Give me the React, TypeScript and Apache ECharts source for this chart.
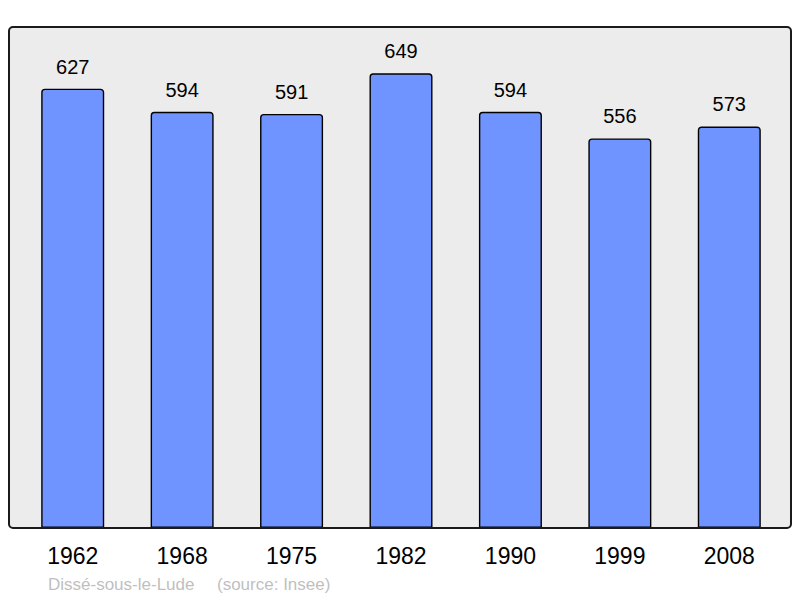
import React, { useEffect, useRef } from "react";
import * as echarts from "echarts";

const years = ["1962", "1968", "1975", "1982", "1990", "1999", "2008"];
const population = [627, 594, 591, 649, 594, 556, 573];
const footerName = "Dissé-sous-le-Lude";
const footerSource = "(source: Insee)";

const FONT = "'Liberation Sans', Arial, sans-serif";

export default function App() {
  const ref = useRef<HTMLDivElement>(null);
  useEffect(() => {
    if (!ref.current) return;
    const chart = echarts.init(ref.current, null, { renderer: "svg" });
    chart.setOption({
      animation: false,
      backgroundColor: "#ffffff",
      textStyle: { fontFamily: FONT },
      grid: { left: 18, right: 16, top: 27, bottom: 70, containLabel: false },
      xAxis: {
        type: "category",
        data: years,
        axisLine: { show: false },
        axisTick: { show: false },
        axisLabel: { color: "#000", fontSize: 23, margin: 16, fontFamily: FONT },
      },
      yAxis: {
        type: "value",
        min: 0,
        max: 715,
        show: false,
        splitLine: { show: false },
      },
      graphic: [
        {
          type: "rect",
          z: -10,
          shape: { x: 9, y: 27, width: 782, height: 501, r: 4 },
          style: { fill: "#ececec", stroke: "none" },
        },
        {
          type: "rect",
          z: 100,
          shape: { x: 9, y: 27, width: 782, height: 501, r: 4 },
          style: { fill: "none", stroke: "#1a1a1a", lineWidth: 2 },
        },
        {
          type: "text",
          x: 48,
          y: 584,
          style: {
            text: footerName,
            fill: "#bfbfbf",
            fontSize: 17,
            fontFamily: FONT,
            verticalAlign: "middle",
          },
        },
        {
          type: "text",
          x: 217,
          y: 584,
          style: {
            text: footerSource,
            fill: "#bfbfbf",
            fontSize: 17,
            fontFamily: FONT,
            verticalAlign: "middle",
          },
        },
      ],
      series: [
        {
          type: "bar",
          data: population,
          barWidth: 63,
          itemStyle: {
            color: "#7094ff",
            borderColor: "#000",
            borderWidth: 1.4,
            borderRadius: [3, 3, 0, 0],
          },
          label: {
            show: true,
            position: "top",
            distance: 12,
            color: "#000",
            fontSize: 20,
            fontFamily: FONT,
          },
        },
      ],
    });
    return () => chart.dispose();
  }, []);
  return (
    <div
      ref={ref}
      style={{ position: "fixed", left: 0, top: 0, width: 800, height: 598 }}
    />
  );
}
